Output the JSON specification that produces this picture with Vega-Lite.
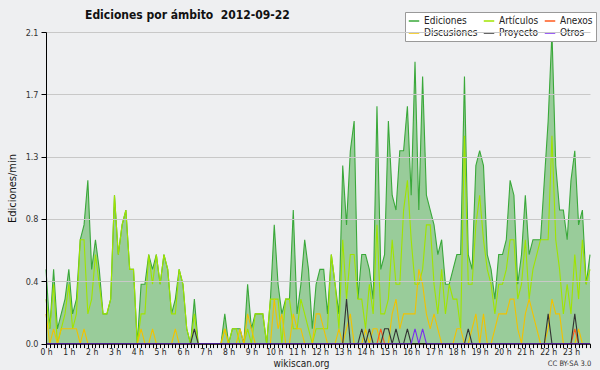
{
"$schema": "https://vega.github.io/schema/vega-lite/v6.json",
"autosize": {"type": "none"},
"width": 544,
"height": 311.6,
"padding": {"left": 46, "top": 32, "right": 10, "bottom": 26.4},
"background": "#eeeff1",
"config": {"view": {"stroke": null}, "font": "DejaVu Sans Condensed"},
"title": {"text": "Ediciones por ámbito \u00a02012-09-22", "anchor": "start", "frame": "group", "dx": 39, "dy": 19, "offset": 9, "fontSize": 12, "font": "DejaVu Sans Condensed", "fontWeight": "bold", "color": "#111"},
"data": {"values": [
{"m":0,"e":0.5,"a":0.3,"x":0,"d":0.2,"p":0,"o":0},
{"m":10,"e":0.1,"a":0.1,"x":0,"d":0,"p":0,"o":0},
{"m":20,"e":0.5,"a":0.4,"x":0,"d":0.1,"p":0,"o":0},
{"m":30,"e":0.1,"a":0,"x":0,"d":0,"p":0,"o":0},
{"m":40,"e":0.2,"a":0.1,"x":0,"d":0.1,"p":0,"o":0},
{"m":50,"e":0.3,"a":0.2,"x":0,"d":0.1,"p":0,"o":0},
{"m":60,"e":0.5,"a":0.4,"x":0,"d":0.1,"p":0,"o":0},
{"m":70,"e":0.2,"a":0.1,"x":0,"d":0.1,"p":0,"o":0},
{"m":80,"e":0.3,"a":0.2,"x":0,"d":0.1,"p":0,"o":0},
{"m":90,"e":0.7,"a":0.7,"x":0,"d":0,"p":0,"o":0},
{"m":100,"e":0.8,"a":0.7,"x":0,"d":0.1,"p":0,"o":0},
{"m":110,"e":1.1,"a":0.2,"x":0,"d":0,"p":0,"o":0},
{"m":120,"e":0.5,"a":0.3,"x":0,"d":0,"p":0,"o":0},
{"m":130,"e":0.7,"a":0.6,"x":0,"d":0,"p":0,"o":0},
{"m":140,"e":0.5,"a":0.4,"x":0,"d":0,"p":0,"o":0},
{"m":150,"e":0.2,"a":0.2,"x":0,"d":0,"p":0,"o":0},
{"m":160,"e":0.2,"a":0.2,"x":0,"d":0,"p":0,"o":0},
{"m":170,"e":0.3,"a":0.3,"x":0,"d":0,"p":0,"o":0},
{"m":180,"e":1.0,"a":1.0,"x":0,"d":0,"p":0,"o":0},
{"m":190,"e":0.6,"a":0.6,"x":0,"d":0,"p":0,"o":0},
{"m":200,"e":0.8,"a":0.8,"x":0,"d":0,"p":0,"o":0},
{"m":210,"e":0.9,"a":0.9,"x":0,"d":0,"p":0,"o":0},
{"m":220,"e":0.5,"a":0.5,"x":0,"d":0,"p":0,"o":0},
{"m":230,"e":0.5,"a":0.5,"x":0,"d":0,"p":0,"o":0},
{"m":240,"e":0,"a":0,"x":0,"d":0,"p":0,"o":0},
{"m":250,"e":0.4,"a":0.2,"x":0,"d":0.1,"p":0,"o":0},
{"m":260,"e":0.4,"a":0.2,"x":0,"d":0,"p":0,"o":0},
{"m":270,"e":0.6,"a":0.6,"x":0,"d":0,"p":0,"o":0},
{"m":280,"e":0.5,"a":0.4,"x":0,"d":0.1,"p":0,"o":0},
{"m":290,"e":0.6,"a":0.6,"x":0,"d":0,"p":0,"o":0},
{"m":300,"e":0.4,"a":0.4,"x":0,"d":0,"p":0,"o":0},
{"m":310,"e":0.6,"a":0.6,"x":0,"d":0,"p":0,"o":0},
{"m":320,"e":0.5,"a":0.5,"x":0,"d":0,"p":0,"o":0},
{"m":330,"e":0.2,"a":0.2,"x":0,"d":0,"p":0,"o":0},
{"m":340,"e":0.3,"a":0.2,"x":0,"d":0.1,"p":0,"o":0},
{"m":350,"e":0.5,"a":0.5,"x":0,"d":0,"p":0,"o":0},
{"m":360,"e":0.4,"a":0.4,"x":0,"d":0,"p":0,"o":0},
{"m":370,"e":0.1,"a":0.1,"x":0,"d":0,"p":0,"o":0},
{"m":380,"e":0,"a":0,"x":0,"d":0,"p":0,"o":0},
{"m":390,"e":0.3,"a":0.2,"x":0,"d":0,"p":0.1,"o":0},
{"m":400,"e":0,"a":0,"x":0,"d":0,"p":0,"o":0},
{"m":410,"e":0,"a":0,"x":0,"d":0,"p":0,"o":0},
{"m":420,"e":0,"a":0,"x":0,"d":0,"p":0,"o":0},
{"m":430,"e":0,"a":0,"x":0,"d":0,"p":0,"o":0},
{"m":440,"e":0,"a":0,"x":0,"d":0,"p":0,"o":0},
{"m":450,"e":0,"a":0,"x":0,"d":0,"p":0,"o":0},
{"m":460,"e":0,"a":0,"x":0,"d":0,"p":0,"o":0},
{"m":470,"e":0.2,"a":0.1,"x":0,"d":0.1,"p":0,"o":0},
{"m":480,"e":0,"a":0,"x":0,"d":0,"p":0,"o":0},
{"m":490,"e":0.1,"a":0.1,"x":0,"d":0,"p":0,"o":0},
{"m":500,"e":0.1,"a":0.1,"x":0,"d":0,"p":0,"o":0},
{"m":510,"e":0.1,"a":0,"x":0,"d":0.1,"p":0,"o":0},
{"m":520,"e":0,"a":0,"x":0,"d":0,"p":0,"o":0},
{"m":530,"e":0.4,"a":0.1,"x":0,"d":0.2,"p":0,"o":0},
{"m":540,"e":0.1,"a":0,"x":0,"d":0.1,"p":0,"o":0},
{"m":550,"e":0.2,"a":0.2,"x":0,"d":0,"p":0,"o":0},
{"m":560,"e":0.2,"a":0.2,"x":0,"d":0,"p":0,"o":0},
{"m":570,"e":0.2,"a":0.2,"x":0,"d":0,"p":0,"o":0},
{"m":580,"e":0,"a":0,"x":0,"d":0,"p":0,"o":0},
{"m":590,"e":0.3,"a":0.3,"x":0,"d":0,"p":0,"o":0},
{"m":600,"e":0.8,"a":0.3,"x":0,"d":0.3,"p":0,"o":0},
{"m":610,"e":0.4,"a":0.3,"x":0,"d":0.1,"p":0,"o":0},
{"m":620,"e":0.2,"a":0,"x":0,"d":0.2,"p":0,"o":0},
{"m":630,"e":0.3,"a":0.3,"x":0,"d":0,"p":0,"o":0},
{"m":640,"e":0.3,"a":0.3,"x":0,"d":0,"p":0,"o":0},
{"m":650,"e":0.9,"a":0.1,"x":0,"d":0.2,"p":0,"o":0},
{"m":660,"e":0.2,"a":0.1,"x":0,"d":0.1,"p":0,"o":0},
{"m":670,"e":0.4,"a":0.3,"x":0,"d":0.1,"p":0,"o":0},
{"m":680,"e":0.7,"a":0.2,"x":0,"d":0,"p":0,"o":0},
{"m":690,"e":0.5,"a":0.1,"x":0,"d":0,"p":0,"o":0},
{"m":700,"e":0.1,"a":0,"x":0,"d":0,"p":0,"o":0},
{"m":710,"e":0.4,"a":0.1,"x":0,"d":0.2,"p":0,"o":0},
{"m":720,"e":0.5,"a":0.1,"x":0,"d":0.2,"p":0,"o":0},
{"m":730,"e":0.5,"a":0.1,"x":0,"d":0.1,"p":0,"o":0},
{"m":740,"e":0.2,"a":0.1,"x":0,"d":0,"p":0,"o":0},
{"m":750,"e":0.6,"a":0.6,"x":0,"d":0,"p":0,"o":0},
{"m":760,"e":0.4,"a":0.4,"x":0,"d":0,"p":0,"o":0},
{"m":770,"e":0.2,"a":0.1,"x":0,"d":0.1,"p":0,"o":0},
{"m":780,"e":1.2,"a":0.7,"x":0,"d":0,"p":0,"o":0},
{"m":790,"e":0.8,"a":0.3,"x":0,"d":0.1,"p":0.3,"o":0},
{"m":800,"e":1.3,"a":0.6,"x":0,"d":0.2,"p":0,"o":0},
{"m":810,"e":1.5,"a":0.6,"x":0,"d":0,"p":0,"o":0},
{"m":820,"e":0.3,"a":0.3,"x":0,"d":0,"p":0,"o":0},
{"m":830,"e":0.6,"a":0.3,"x":0,"d":0,"p":0.1,"o":0},
{"m":840,"e":0.6,"a":0.1,"x":0,"d":0.1,"p":0,"o":0},
{"m":850,"e":0.5,"a":0.4,"x":0,"d":0,"p":0.1,"o":0},
{"m":860,"e":0.3,"a":0.2,"x":0,"d":0.1,"p":0,"o":0},
{"m":870,"e":1.6,"a":0.8,"x":0,"d":0.1,"p":0,"o":0},
{"m":880,"e":0.5,"a":0.2,"x":0.1,"d":0,"p":0,"o":0},
{"m":890,"e":0.6,"a":0.2,"x":0,"d":0,"p":0.1,"o":0},
{"m":900,"e":1.5,"a":0.3,"x":0,"d":0,"p":0.1,"o":0},
{"m":910,"e":1.0,"a":0.7,"x":0,"d":0.2,"p":0,"o":0},
{"m":920,"e":0.9,"a":0.4,"x":0,"d":0.3,"p":0.1,"o":0},
{"m":930,"e":1.3,"a":0.4,"x":0,"d":0.1,"p":0,"o":0},
{"m":940,"e":1.3,"a":0.9,"x":0,"d":0.2,"p":0,"o":0},
{"m":950,"e":1.6,"a":1.1,"x":0,"d":0.2,"p":0.1,"o":0},
{"m":960,"e":1.0,"a":0.7,"x":0,"d":0.2,"p":0,"o":0},
{"m":970,"e":1.9,"a":0.4,"x":0,"d":0.2,"p":0,"o":0.1},
{"m":980,"e":0.9,"a":0.4,"x":0,"d":0.5,"p":0,"o":0},
{"m":990,"e":1.8,"a":0.5,"x":0,"d":0.4,"p":0,"o":0.1},
{"m":1000,"e":1.0,"a":0.8,"x":0,"d":0.2,"p":0,"o":0},
{"m":1010,"e":0.9,"a":0.8,"x":0,"d":0.1,"p":0,"o":0},
{"m":1020,"e":0.8,"a":0.4,"x":0,"d":0.2,"p":0,"o":0},
{"m":1030,"e":0.6,"a":0.2,"x":0,"d":0.1,"p":0,"o":0},
{"m":1040,"e":0.7,"a":0.5,"x":0,"d":0,"p":0,"o":0},
{"m":1050,"e":0.4,"a":0.2,"x":0,"d":0,"p":0,"o":0},
{"m":1060,"e":0.4,"a":0.4,"x":0,"d":0,"p":0,"o":0},
{"m":1070,"e":0.5,"a":0.3,"x":0,"d":0,"p":0,"o":0},
{"m":1080,"e":0.6,"a":0.3,"x":0,"d":0.1,"p":0,"o":0},
{"m":1090,"e":0.6,"a":0.1,"x":0,"d":0.1,"p":0,"o":0},
{"m":1100,"e":1.8,"a":1.4,"x":0,"d":0,"p":0,"o":0},
{"m":1110,"e":0.6,"a":0.4,"x":0,"d":0,"p":0.1,"o":0},
{"m":1120,"e":0.5,"a":0.4,"x":0,"d":0.1,"p":0,"o":0},
{"m":1130,"e":1.2,"a":0.8,"x":0,"d":0.2,"p":0,"o":0},
{"m":1140,"e":1.3,"a":1.0,"x":0,"d":0,"p":0,"o":0},
{"m":1150,"e":1.2,"a":0.7,"x":0,"d":0.2,"p":0,"o":0},
{"m":1160,"e":0.6,"a":0.5,"x":0,"d":0,"p":0,"o":0},
{"m":1170,"e":0.5,"a":0.4,"x":0,"d":0,"p":0,"o":0},
{"m":1180,"e":0.3,"a":0.2,"x":0,"d":0.1,"p":0,"o":0},
{"m":1190,"e":0.6,"a":0.4,"x":0,"d":0.2,"p":0,"o":0},
{"m":1200,"e":0.6,"a":0.4,"x":0,"d":0.2,"p":0,"o":0},
{"m":1210,"e":0.7,"a":0.5,"x":0,"d":0.2,"p":0,"o":0},
{"m":1220,"e":1.1,"a":0.7,"x":0,"d":0.3,"p":0,"o":0},
{"m":1230,"e":1.0,"a":0.7,"x":0,"d":0.3,"p":0,"o":0},
{"m":1240,"e":0.4,"a":0.3,"x":0,"d":0.1,"p":0,"o":0},
{"m":1250,"e":0.6,"a":0.4,"x":0,"d":0,"p":0,"o":0},
{"m":1260,"e":1.0,"a":0.7,"x":0,"d":0.2,"p":0,"o":0},
{"m":1270,"e":0.6,"a":0.3,"x":0,"d":0.3,"p":0,"o":0},
{"m":1280,"e":0.7,"a":0.5,"x":0,"d":0.2,"p":0,"o":0},
{"m":1290,"e":0.7,"a":0.6,"x":0,"d":0.1,"p":0,"o":0},
{"m":1300,"e":0.7,"a":0.7,"x":0,"d":0,"p":0,"o":0},
{"m":1310,"e":1.1,"a":0.7,"x":0,"d":0,"p":0,"o":0},
{"m":1320,"e":1.5,"a":0.7,"x":0,"d":0.1,"p":0.2,"o":0},
{"m":1330,"e":2.1,"a":1.4,"x":0,"d":0.3,"p":0,"o":0},
{"m":1340,"e":1.2,"a":0.7,"x":0,"d":0.2,"p":0,"o":0},
{"m":1350,"e":0.9,"a":0.5,"x":0,"d":0.2,"p":0,"o":0},
{"m":1360,"e":0.9,"a":0.2,"x":0,"d":0,"p":0,"o":0},
{"m":1370,"e":0.7,"a":0.4,"x":0,"d":0,"p":0,"o":0},
{"m":1380,"e":1.1,"a":0.2,"x":0,"d":0,"p":0,"o":0},
{"m":1390,"e":1.3,"a":0.6,"x":0.1,"d":0,"p":0.2,"o":0},
{"m":1400,"e":0.8,"a":0.3,"x":0,"d":0.1,"p":0,"o":0},
{"m":1410,"e":0.9,"a":0.7,"x":0,"d":0,"p":0,"o":0},
{"m":1420,"e":0.4,"a":0.4,"x":0,"d":0,"p":0,"o":0},
{"m":1430,"e":0.6,"a":0.5,"x":0,"d":0,"p":0,"o":0}
]},
"layer": [
{
"mark": {"type": "area", "color": "#44aa44", "opacity": 0.5, "interpolate": "linear"},
"encoding": {
"x": {"field": "m", "type": "quantitative", "scale": {"domain": [0, 1430], "nice": false, "zero": false},
"axis": {"values": [0,10,20,30,40,50,60,70,80,90,100,110,120,130,140,150,160,170,180,190,200,210,220,230,240,250,260,270,280,290,300,310,320,330,340,350,360,370,380,390,400,410,420,430,440,450,460,470,480,490,500,510,520,530,540,550,560,570,580,590,600,610,620,630,640,650,660,670,680,690,700,710,720,730,740,750,760,770,780,790,800,810,820,830,840,850,860,870,880,890,900,910,920,930,940,950,960,970,980,990,1000,1010,1020,1030,1040,1050,1060,1070,1080,1090,1100,1110,1120,1130,1140,1150,1160,1170,1180,1190,1200,1210,1220,1230,1240,1250,1260,1270,1280,1290,1300,1310,1320,1330,1340,1350,1360,1370,1380,1390,1400,1410,1420,1430],
"labelExpr": "datum.value % 60 == 0 ? (datum.value / 60) + ' h' : ''",
"labelOverlap": false, "labelFlush": false, "labelBound": false, "grid": false,
"tickSize": 4, "tickColor": "#000", "domainColor": "#000", "zindex": 1,
"labelFontSize": 8.5, "labelFont": "DejaVu Sans Condensed", "labelColor": "#222", "labelPadding": 0,
"title": "wikiscan.org", "titleFont": "DejaVu Sans Condensed", "titleFontSize": 10, "titleFontWeight": "normal", "titleColor": "#222",
"titleX": 255, "titleY": 20, "titleBaseline": "middle"}},
"y": {"field": "e", "type": "quantitative", "scale": {"domain": [0, 2.1], "nice": false},
"axis": {"values": [0, 0.21, 0.42, 0.63, 0.84, 1.05, 1.26, 1.47, 1.68, 1.89, 2.1],
"labelExpr": "round(datum.value * 100) % 42 == 0 ? format(datum.value, '.1f') : ''",
"grid": true, "gridColor": "#c8c8c8",
"gridOpacity": {"condition": {"test": "round(datum.value * 100) % 42 == 0 && datum.value > 0", "value": 1}, "value": 0},
"tickSize": 5, "tickColor": "#000", "domainColor": "#000", "zindex": 1,
"labelFontSize": 9, "labelFont": "DejaVu Sans Condensed", "labelColor": "#333", "labelPadding": 3,
"title": "Ediciones/min", "titleFont": "DejaVu Sans Condensed", "titleFontSize": 11, "titleFontWeight": "normal", "titleColor": "#111",
"titleX": -34, "titleY": 156, "titleAngle": -90, "titleAlign": "center", "titleBaseline": "middle"}}
}
},
{
"transform": [{"fold": ["e", "a", "d", "x", "p", "o"], "as": ["k", "v"]}],
"mark": {"type": "line", "strokeWidth": 1.1, "interpolate": "linear"},
"encoding": {
"x": {"field": "m", "type": "quantitative",
"axis": {"orient": "bottom", "domain": false, "ticks": false, "labels": false, "grid": false,
"title": "CC BY-SA 3.0", "titleFont": "DejaVu Sans Condensed", "titleFontSize": 7.5, "titleFontWeight": "normal", "titleColor": "#333",
"titleX": 523, "titleY": 20, "titleBaseline": "middle"}},
"y": {"field": "v", "type": "quantitative"},
"color": {"field": "k", "type": "nominal",
"scale": {"domain": ["e", "d", "a", "p", "x", "o"], "range": ["#3aa83a", "#f2c200", "#a0e400", "#333333", "#ff5a1e", "#7a2cf0"]},
"legend": {"orient": "none", "legendX": 359, "legendY": -20, "columns": 3, "title": null,
"labelExpr": "datum.value == 'e' ? 'Ediciones' : datum.value == 'a' ? 'Artículos' : datum.value == 'x' ? 'Anexos' : datum.value == 'd' ? 'Discusiones' : datum.value == 'p' ? 'Proyecto' : 'Otros'",
"symbolType": "stroke", "symbolSize": 110, "symbolStrokeWidth": 1.5,
"labelFont": "DejaVu Sans Condensed", "labelFontSize": 10, "labelColor": "#222", "labelOffset": 4,
"columnPadding": 2, "rowPadding": 1, "gridAlign": "each",
"fillColor": "#ffffff", "strokeColor": "#999999", "padding": 3}}
}
}
],
"resolve": {"axis": {"x": "independent"}}
}
